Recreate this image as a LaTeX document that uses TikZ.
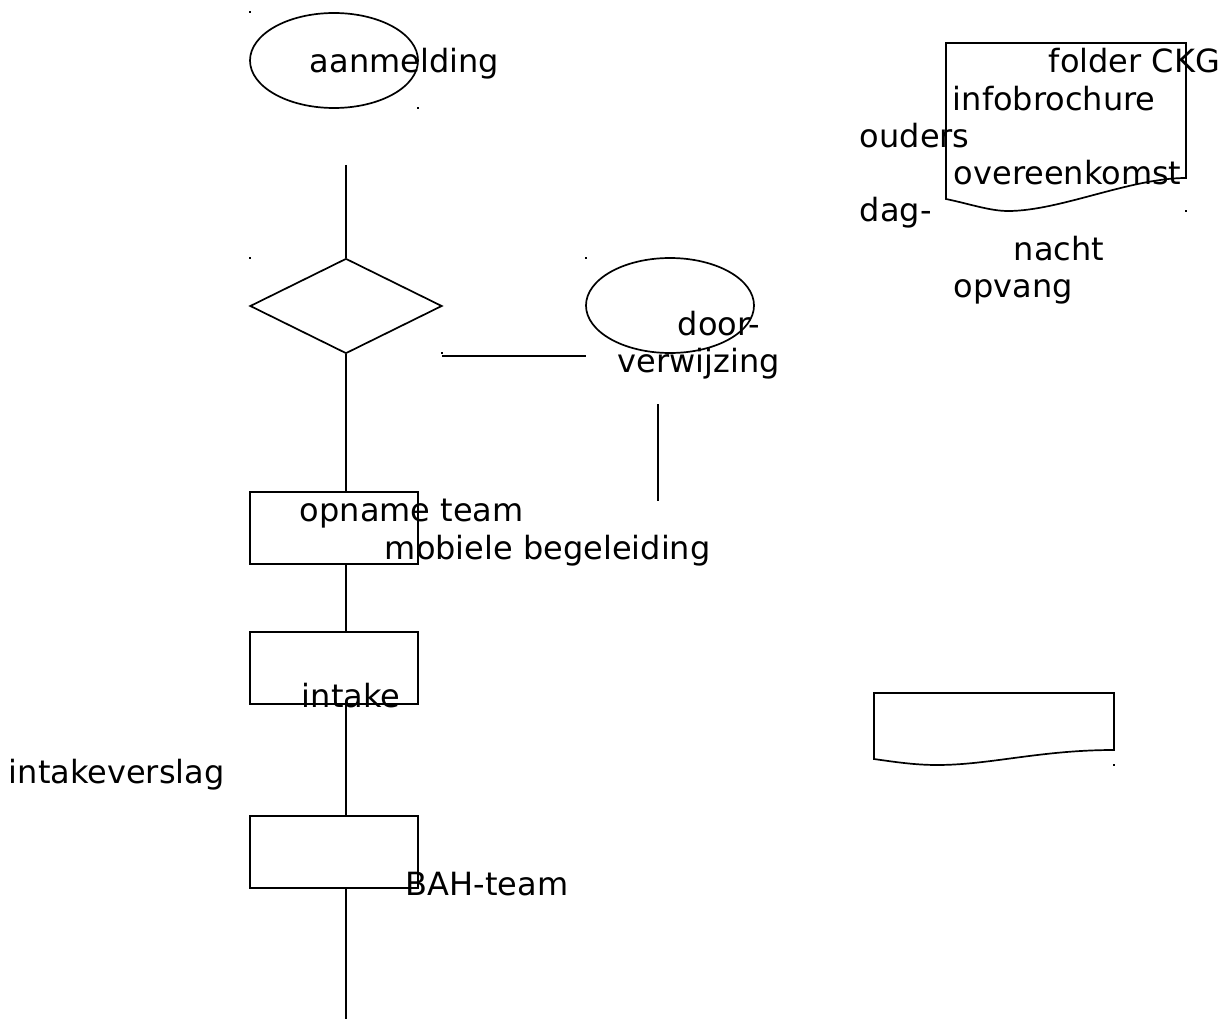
\documentclass[tikz,border=0pt]{standalone}
\usepackage{fontspec}
\setmainfont{DejaVu Sans}
\usetikzlibrary{shapes.geometric}
\begin{document}
\begin{tikzpicture}[x=1pt,y=-1pt,line width=1.7pt,
  lbl/.style={anchor=base west,inner sep=0pt,font=\fontsize{32}{38}\selectfont},
  oval/.style={draw,ellipse,minimum width=168pt,minimum height=95pt,inner sep=0pt},
  boxx/.style={draw,rectangle,minimum width=168pt,minimum height=72pt,inner sep=0pt},
  dec/.style={draw,diamond,minimum width=192pt,minimum height=95pt,inner sep=0pt},
  dotmark/.style={fill,draw=none,rectangle,inner sep=0pt,minimum size=2pt}]
\useasboundingbox (0,0) rectangle (1229,1019);
% shapes
\node[oval] (start) at (334,60.5) {};
\node[dec] (check) at (346,306) {};
\node[oval] (ref) at (670,305.5) {};
\node[boxx] (opn) at (334,528) {};
\node[boxx] (intk) at (334,668) {};
\node[boxx] (bah) at (334,852) {};
% documents
\draw (946,43) -- (1186,43) -- (1186,178)
  .. controls (1130,178) and (1060,211) .. (1008,211)
  .. controls (990,211) and (970,204) .. (946,199) -- cycle;
\draw (874,693) -- (1114,693) -- (1114,750)
  .. controls (1040,750) and (990,765) .. (937,765)
  .. controls (915,765) and (895,762) .. (874,759) -- cycle;
% connectors
\coordinate (c1) at (346,165);
\draw (c1) -- (check.north);
\draw (check.south) -- (check.south |- opn.north);
\draw (opn.south -| check.south) -- (intk.north -| check.south);
\draw (intk.south -| check.south) -- (bah.north -| check.south);
\coordinate (cEnd) at (346,1019);
\draw (bah.south -| check.south) -- (cEnd);
\coordinate (h1) at (442,356);
\coordinate (h2) at (586,356);
\draw (h1) -- (h2);
\coordinate (v1) at (658,404);
\coordinate (v2) at (658,501);
\draw (v1) -- (v2);
% labels
\node[lbl] (tA) at (309,73) {aanmelding};
\node[lbl] (tD1) at (677,335) {door-};
\node[lbl] (tD2) at (617,372) {verwijzing};
\node[lbl] (tO1) at (299,521) {opname team};
\node[lbl] (tO2) at (384,559) {mobiele begeleiding};
\node[lbl] (tI) at (301,707) {intake};
\node[lbl] (tIv) at (8,783) {intakeverslag};
\node[lbl] (tB) at (405,895) {BAH-team};
\node[lbl] (f1) at (1048,73) {folder CKG};
\node[lbl] (f2) at (952,111) {infobrochure};
\node[lbl] (f3) at (859,148) {ouders};
\node[lbl] (f4) at (953,185) {overeenkomst};
\node[lbl] (f5) at (859,222) {dag-};
\node[lbl] (f6) at (1013,260) {nacht};
\node[lbl] (f7) at (953,297) {opvang};
% stray marks
\node[dotmark] (m1) at (250,12) {};
\node[dotmark] (m2) at (418,108) {};
\node[dotmark] (m3) at (250,258) {};
\node[dotmark] (m4) at (586,258) {};
\node[dotmark] (m5) at (442,353) {};
\node[dotmark] (m6) at (1186,211) {};
\node[dotmark] (m7) at (1114,765) {};
\end{tikzpicture}
\end{document}
